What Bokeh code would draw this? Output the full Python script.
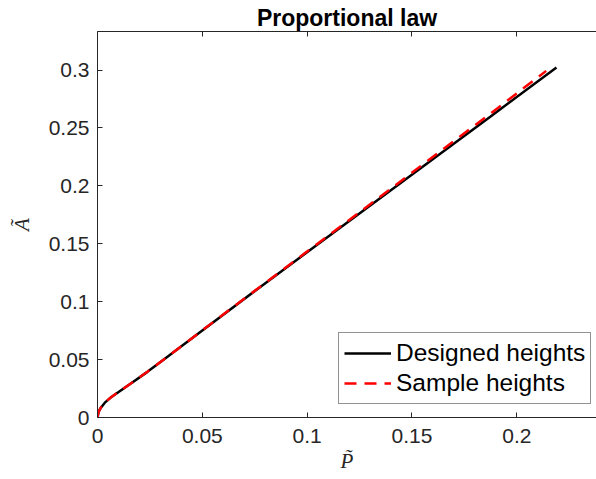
from bokeh.plotting import figure
from bokeh.models import Range1d, FixedTicker, LinearAxis, Legend, LegendItem
from bokeh.embed import file_html
from bokeh.resources import INLINE

# ---- data ----
designed_P = [0, 0.0005, 0.0016, 0.0035, 0.0063, 0.0111, 0.0159, 0.0238, 0.0318,
              0.0397, 0.0492, 0.0778, 0.0993, 0.1541, 0.1875, 0.2189]
designed_A = [0, 0.0048, 0.0085, 0.0128, 0.0172, 0.0233, 0.0293, 0.0394, 0.0502,
              0.0610, 0.0740, 0.1130, 0.1418, 0.2153, 0.2600, 0.3022]

sample_P = [0, 0.0005, 0.0016, 0.0035, 0.0063, 0.0111, 0.0159, 0.0238, 0.0318,
            0.0397, 0.0492, 0.0778, 0.0993, 0.1250, 0.1541, 0.1875, 0.2140]
sample_A = [0, 0.0049, 0.0086, 0.0129, 0.0173, 0.0234, 0.0294, 0.0395, 0.0503,
            0.0611, 0.0742, 0.1132, 0.1424, 0.1772, 0.2170, 0.2625, 0.2993]

x_ticks = [0, 0.05, 0.1, 0.15, 0.2]
x_tick_labels = ["0", "0.05", "0.1", "0.15", "0.2"]
y_ticks = [0, 0.05, 0.1, 0.15, 0.2, 0.25, 0.3]
y_tick_labels = ["0", "0.05", "0.1", "0.15", "0.2", "0.25", "0.3"]

title_text = "Proportional law"
x_label = "P\u0303"
y_label = "\u00c3"
series_names = ["Designed heights", "Sample heights"]

AX = "#262626"

p = figure(width=596, height=479,
           x_range=Range1d(0, 0.2380), y_range=Range1d(0, 0.3333),
           output_backend="svg", toolbar_location=None,
           min_border_left=97, min_border_right=0,
           min_border_top=31, min_border_bottom=62)
p.outline_line_color = None
p.grid.grid_line_color = None
p.background_fill_color = "white"
p.border_fill_color = "white"

p.title.text = title_text
p.title.align = "center"
p.title.text_font = "Liberation Sans"
p.title.text_font_style = "bold"
p.title.text_font_size = "23px"
p.title.text_color = "black"
p.title.standoff = 2

for ax, ticks, labels in ((p.xaxis[0], x_ticks, x_tick_labels),
                          (p.yaxis[0], y_ticks, y_tick_labels)):
    ax.ticker = FixedTicker(ticks=ticks)
    ax.major_label_overrides = {t: l for t, l in zip(ticks, labels)}
    ax.major_tick_in = 5
    ax.major_tick_out = 0
    ax.minor_tick_line_color = None
    ax.axis_line_color = AX
    ax.major_tick_line_color = AX
    ax.axis_line_width = 1
    ax.major_label_text_font = "Liberation Sans"
    ax.major_label_text_font_size = "21px"
    ax.major_label_text_color = AX

p.xaxis[0].major_label_standoff = 11
p.yaxis[0].major_label_standoff = 8

p.xaxis[0].axis_label = x_label
p.xaxis[0].axis_label_standoff = 3
p.yaxis[0].axis_label = y_label
p.yaxis[0].axis_label_standoff = 12
for ax in (p.xaxis[0], p.yaxis[0]):
    ax.axis_label_text_font = "Liberation Serif"
    ax.axis_label_text_font_style = "italic"
    ax.axis_label_text_font_size = "21px"
    ax.axis_label_text_color = AX

top = LinearAxis(ticker=FixedTicker(ticks=x_ticks), major_tick_in=5, major_tick_out=0,
                 minor_tick_line_color=None, axis_line_color=AX, major_tick_line_color=AX,
                 major_label_text_font_size="0px", major_label_text_color=None,
                 major_label_standoff=0)
p.add_layout(top, "above")

r1 = p.line(designed_P, designed_A, line_color="black", line_width=2.5)
r2 = p.line(sample_P, sample_A, line_color="red", line_width=2.5, line_dash="12 8")

legend = Legend(items=[LegendItem(label=series_names[0], renderers=[r1]),
                       LegendItem(label=series_names[1], renderers=[r2])],
                location=(241, 13),
                border_line_color=AX, border_line_width=1,
                background_fill_color="white", background_fill_alpha=1,
                padding=5, spacing=0, margin=0,
                label_height=30, glyph_height=30, glyph_width=47, label_standoff=5,
                label_text_font="Liberation Sans", label_text_font_size="24.5px",
                label_text_color="black", label_text_baseline="middle")
p.add_layout(legend, "center")

open("out.html", "w").write(file_html(p, INLINE))
